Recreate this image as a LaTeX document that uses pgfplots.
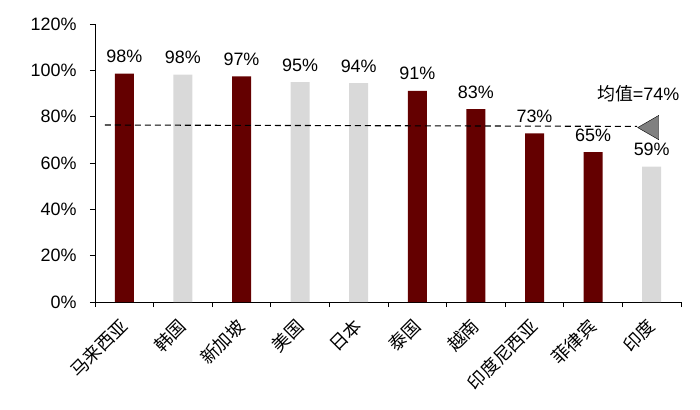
\documentclass[border=0pt]{standalone}
\usepackage{pgfplots}
\pgfplotsset{compat=1.18}
\usepackage{fontspec}
\setmainfont{Liberation Sans}
\newfontfamily\cjk{Noto Sans CJK SC}
\definecolor{darkred}{HTML}{640000}
\definecolor{lightgray}{HTML}{D9D9D9}
\definecolor{markgray}{HTML}{808080}
\pgfplotsset{barlabels/.style={
  point meta=explicit,
  nodes near coords={\pgfmathprintnumber{\pgfplotspointmeta}\%},
  every node near coord/.append style={font=\fontsize{18}{21}\selectfont, anchor=base, yshift=11bp, black}}}
\begin{document}
\begin{tikzpicture}
\begin{axis}[
  name=ax, at={(0,0)}, anchor=south west,
  scale only axis, width=586bp, height=278bp,
  xmin=-0.5, xmax=9.5, ymin=0, ymax=120,
  axis x line*=bottom, axis y line*=left,
  axis line style={line width=0.8pt, black},
  xtick={0,...,9},
  xticklabels={马来西亚,韩国,新加坡,美国,日本,泰国,越南,印度尼西亚,菲律宾,印度},
  major x tick style={draw=none},
  minor xtick={-0.5,0.5,...,9.5},
  minor x tick style={line width=0.8pt, black},
  tick align=outside,
  minor tick length=5bp,
  major tick length=5bp,
  ytick={0,20,...,120},
  y tick style={line width=0.8pt, black},
  yticklabel={\pgfmathprintnumber{\tick}\%},
  /pgf/number format/assume math mode=true,
  ticklabel style={font=\fontsize{18}{21}\selectfont},
  yticklabel style={xshift=-10bp},
  xticklabel style={font=\cjk\fontsize{18}{21}\selectfont, anchor=north east, xshift=-6bp, yshift=-5bp, rotate=45},
  clip=false,
]
\addplot[ybar, bar width=19bp, bar shift=0pt, fill=darkred, draw=none, barlabels] table[x=x, y=y, meta=l] {
x y l
0 98.6 98
2 97.4 97
5 91.1 91
6 83.3 83
7 72.8 73
8 64.7 65
};
\addplot[ybar, bar width=19bp, bar shift=0pt, fill=lightgray, draw=none, barlabels] table[x=x, y=y, meta=l] {
x y l
1 98.1 98
3 94.9 95
4 94.5 94
9 58.4 59
};
\addplot[sharp plot, black, line width=1.1pt, dash pattern=on 6bp off 4bp, mark=none] coordinates {(-0.33,76.4) (8.75,75.8)};
\addplot[only marks, mark=triangle*, mark size=14bp, mark options={rotate=90, fill=markgray, draw=none}] coordinates {(9,75.3)};
\node[font=\fontsize{18}{21}\selectfont, anchor=center] at (axis cs:8.77,89.8) {{\cjk 均值}=74\%};
\end{axis}
\pgfresetboundingbox
\path (-95bp,-108bp) rectangle (605bp,302bp);
\end{tikzpicture}
\end{document}
